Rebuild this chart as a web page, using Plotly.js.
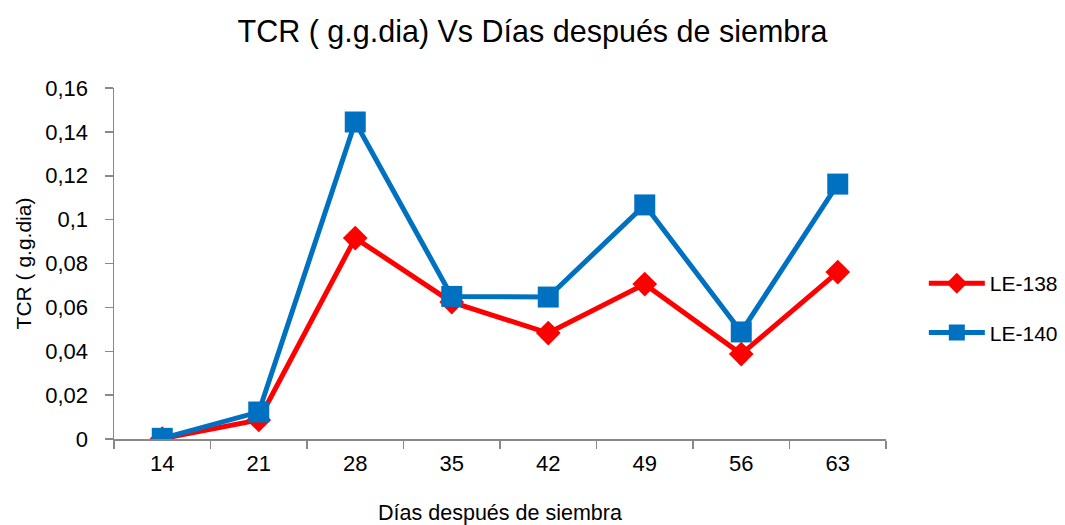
<!DOCTYPE html>
<html>
<head>
<meta charset="utf-8">
<script src="https://cdn.plot.ly/plotly-3.0.1.min.js"></script>
<style>html,body{margin:0;padding:0;background:#fff;}#chart{width:1065px;height:525px;}</style>
</head>
<body>
<div id="chart"></div>
<script>
const dias = ["14", "21", "28", "35", "42", "49", "56", "63"];
const le138 = [0.0002, 0.0087, 0.0916, 0.0624, 0.0483, 0.0706, 0.0387, 0.0761];
const le140 = [0.0003, 0.0123, 0.1445, 0.0650, 0.0647, 0.1067, 0.0488, 0.1162];
const yTickVals = [0, 0.02, 0.04, 0.06, 0.08, 0.1, 0.12, 0.14, 0.16];
const yTickText = ["0", "0,02", "0,04", "0,06", "0,08", "0,1", "0,12", "0,14", "0,16"];

const FONT = "'Liberation Sans', Arial, sans-serif";

const traces = [
  {x: dias, y: le138, name: "LE-138", type: "scatter", mode: "lines+markers",
   legendgroup: "a",
   line: {color: "#FF0000", width: 5},
   marker: {symbol: "diamond", size: 19, color: "#FF0000"}},
  {x: dias, y: le140, name: "LE-140", type: "scatter", mode: "lines+markers",
   legendgroup: "b",
   line: {color: "#0070C0", width: 5},
   marker: {symbol: "square", size: 21, color: "#0070C0"}}
];

const layout = {
  width: 1065, height: 525,
  margin: {l: 114, r: 179, t: 88, b: 86, autoexpand: false},
  paper_bgcolor: "#fff", plot_bgcolor: "#fff",
  font: {family: FONT, size: 21, color: "#000"},
  title: {text: "TCR ( g.g.dia) Vs Días después de siembra", font: {family: FONT, size: 30.5, color: "#000"},
          x: 0.5, xanchor: "center", xref: "container", y: 0.94, yanchor: "middle"},
  xaxis: {type: "category", tickson: "boundaries", ticks: "outside", ticklen: 8, tickcolor: "#888",
          tickwidth: 1.5,
          showline: true, linecolor: "#888", linewidth: 1.5, showgrid: false, zeroline: false,
          tickfont: {family: FONT, size: 22}, range: [-0.5, 7.5], ticklabelstandoff: 4,
          title: {text: "Días después de siembra", font: {family: FONT, size: 21.5}, standoff: 30}},
  yaxis: {range: [0, 0.16], tickvals: yTickVals, ticktext: yTickText, ticks: "outside", ticklen: 8,
          tickwidth: 1.5,
          tickcolor: "#888", showline: true, linecolor: "#888", linewidth: 1.5, showgrid: false,
          zeroline: false, tickfont: {family: FONT, size: 22}, ticklabelstandoff: 12,
          title: {text: "TCR ( g.g.dia)", font: {family: FONT, size: 21}, standoff: 8}},
  legend: {x: 1.049, xanchor: "left", y: 0.373, yanchor: "middle", font: {family: FONT, size: 21},
           itemwidth: 56,
           traceorder: "grouped", tracegroupgap: 19, bgcolor: "rgba(0,0,0,0)"},
  showlegend: true
};

Plotly.newPlot("chart", traces, layout, {displayModeBar: false, staticPlot: true});
</script>
</body>
</html>
